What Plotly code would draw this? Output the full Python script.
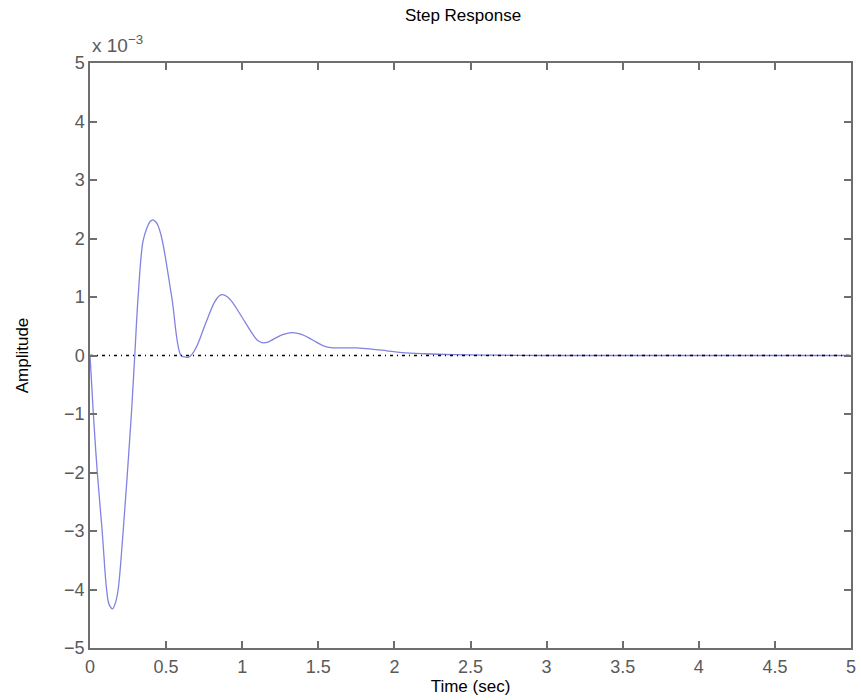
import plotly.graph_objects as go

# Step response, amplitude in units of 1e-3
time_sec = [0, 0.010, 0.022, 0.048, 0.080, 0.109, 0.125, 0.148, 0.168, 0.185,
            0.218, 0.246, 0.272, 0.294, 0.316, 0.348, 0.375, 0.395, 0.413, 0.430,
            0.445, 0.472, 0.537, 0.598, 0.625, 0.646, 0.670, 0.70, 0.76, 0.82,
            0.85, 0.87, 0.90, 0.93, 1.00, 1.06, 1.10, 1.13, 1.17, 1.22,
            1.27, 1.33, 1.39, 1.46, 1.53, 1.58, 1.65, 1.75, 1.85, 1.95,
            2.05, 2.2, 2.4, 2.7, 3.0, 3.5, 4.0, 4.5, 5.0]
amplitude_e3 = [0, -0.45, -1.0, -2.0, -3.0, -4.0, -4.25, -4.33, -4.22, -4.0,
                -3.0, -2.0, -1.0, 0.0, 1.0, 1.95, 2.19, 2.29, 2.32, 2.29,
                2.23, 2.0, 1.0, 0.0, -0.025, -0.03, 0.02, 0.15, 0.55, 0.92,
                1.02, 1.04, 1.01, 0.93, 0.65, 0.40, 0.26, 0.22, 0.23, 0.30,
                0.36, 0.39, 0.36, 0.27, 0.17, 0.135, 0.13, 0.13, 0.11, 0.08,
                0.05, 0.03, 0.015, 0.005, 0, 0, 0, 0, 0]

ref_x = [0, 5]
ref_y = [0, 0]

x_ticks = [0, 0.5, 1, 1.5, 2, 2.5, 3, 3.5, 4, 4.5, 5]
x_tick_labels = ["0", "0.5", "1", "1.5", "2", "2.5", "3", "3.5", "4", "4.5", "5"]
y_ticks = [-5, -4, -3, -2, -1, 0, 1, 2, 3, 4, 5]
y_tick_labels = ["\u22125", "\u22124", "\u22123", "\u22122", "\u22121", "0", "1", "2", "3", "4", "5"]

FONT = "Liberation Sans, Arial, sans-serif"

fig = go.Figure()
fig.add_trace(go.Scatter(x=time_sec, y=amplitude_e3, mode="lines",
                         line=dict(color="#8282e2", width=1.3, shape="spline", smoothing=1.0),
                         showlegend=False))
fig.add_trace(go.Scatter(x=ref_x, y=ref_y, mode="lines",
                         line=dict(color="black", width=1.5, dash="3px,4px,1px,4px"),
                         hoverinfo="skip", showlegend=False))

axis_common = dict(showline=True, linecolor="#6e6e6e", linewidth=1.5, mirror="ticks",
                   ticks="inside", ticklen=7, tickwidth=1.5, tickcolor="#6e6e6e",
                   showgrid=False, zeroline=False,
                   tickfont=dict(family=FONT, size=18, color="#5a5a5a"))

fig.update_xaxes(range=[0, 5], tickvals=x_ticks, ticktext=x_tick_labels,
                 ticklabelstandoff=2,
                 title=dict(text="Time (sec)", standoff=3,
                            font=dict(family=FONT, size=17, color="black")),
                 **axis_common)
fig.update_yaxes(range=[-5, 5], tickvals=y_ticks, ticktext=y_tick_labels,
                 title=dict(text="Amplitude", standoff=31,
                            font=dict(family=FONT, size=17, color="black")),
                 **axis_common)

fig.update_layout(
    width=861, height=700,
    margin=dict(l=90, r=5, t=63, b=52),
    plot_bgcolor="white", paper_bgcolor="white",
    title=dict(text="Step Response", x=463 / 861, xanchor="center",
               y=0.987, yanchor="top",
               font=dict(family=FONT, size=17, color="black")),
    annotations=[dict(text="x 10<sup>\u22123</sup>", xref="paper", yref="paper",
                      x=0, y=1, xanchor="left", yanchor="bottom", yshift=5, showarrow=False,
                      font=dict(family=FONT, size=19, color="#5a5a5a"))],
)

fig.write_html("out.html")
